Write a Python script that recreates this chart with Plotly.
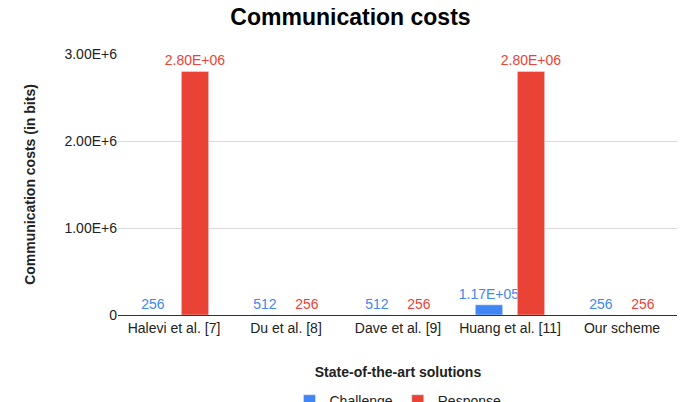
import plotly.graph_objects as go

schemes = ["Halevi et al. [7]", "Du et al. [8]", "Dave et al. [9]", "Huang et al. [11]", "Our scheme"]
challenge = [256, 512, 512, 117000, 256]
response = [2800000, 256, 256, 2800000, 256]
challenge_text = ["256", "512", "512", "1.17E+05", "256"]
response_text = ["2.80E+06", "256", "256", "2.80E+06", "256"]
ytick_vals = [0, 1000000, 2000000, 3000000]
ytick_text = ["0", "1.00E+6", "2.00E+6", "3.00E+6"]

blue = "#4285F4"
red = "#EA4335"

fig = go.Figure()
fig.add_trace(go.Bar(x=schemes, y=challenge, name="Challenge", marker_color=blue,
                     text=challenge_text, textposition="outside", cliponaxis=False,
                     constraintext="none", textfont=dict(color=blue, size=14)))
fig.add_trace(go.Bar(x=schemes, y=response, name="Response", marker_color=red,
                     text=response_text, textposition="outside", cliponaxis=False,
                     constraintext="none", textfont=dict(color=red, size=14)))

fig.update_layout(
    width=685, height=402,
    margin=dict(l=110, r=15, t=46, b=95, autoexpand=False),
    plot_bgcolor="white", paper_bgcolor="white",
    font=dict(family="Liberation Sans, Arial", size=14, color="#222"),
    title=dict(text="<b>Communication costs</b>", x=0.5, xanchor="center", y=0.998, yanchor="top",
               font=dict(size=23, color="black")),
    barmode="group", bargap=0.25, bargroupgap=0.35,
    legend=dict(orientation="h", x=0.5, xanchor="center", y=-0.33, yanchor="middle",
                font=dict(size=14)),
)
fig.update_xaxes(title=dict(text="<b>State-of-the-art solutions</b>", font=dict(size=14, color="#222"), standoff=32),
                 automargin=False, showline=True, linecolor="#333", tickfont=dict(size=14))
fig.update_yaxes(title=dict(text="<b>Communication costs (in bits)</b>", font=dict(size=14, color="#222"), standoff=25),
                 automargin=False, range=[0, 3000000], tickvals=ytick_vals, ticktext=ytick_text,
                 gridcolor="#d9d9d9", zeroline=False, tickfont=dict(size=14))

fig.write_html("out.html")
